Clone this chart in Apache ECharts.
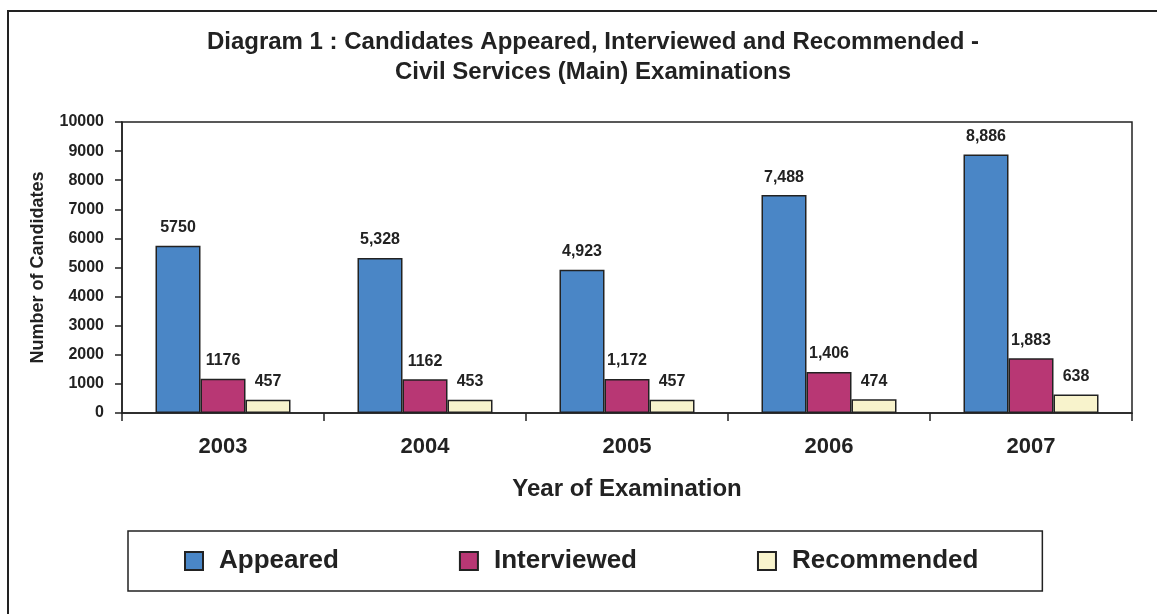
<!DOCTYPE html>
<html>
<head>
<meta charset="utf-8">
<script src="https://cdn.jsdelivr.net/npm/echarts@6/dist/echarts.min.js"></script>
<style>
    html, body {
        margin: 0;
        padding: 0;
        background: #fff;
    }
    #chart {
        width: 1157px;
        height: 614px;
    }
</style>
</head>
<body>
<div id="chart"></div>
<script>
// 数据
const years = ['2003', '2004', '2005', '2006', '2007'];
const appeared = [5750, 5328, 4923, 7488, 8886];
const interviewed = [1176, 1162, 1172, 1406, 1883];
const recommended = [457, 453, 457, 474, 638];
// 原图标签格式不统一，照抄
const appearedLabels = ['5750', '5,328', '4,923', '7,488', '8,886'];
const interviewedLabels = ['1176', '1162', '1,172', '1,406', '1,883'];
const recommendedLabels = ['457', '453', '457', '474', '638'];

const ink = '#222';
const font = '"Liberation Sans", Arial, sans-serif';

function makeSeries(name, values, labels, color) {
    return {
        name: name,
        type: 'bar',
        data: values,
        barWidth: 45,
        barGap: '0%',
        itemStyle: {
            color: color,
            borderColor: ink,
            borderWidth: 1.5
        },
        label: {
            show: true,
            position: 'top',
            distance: 10,
            color: ink,
            fontFamily: font,
            fontWeight: 'bold',
            fontSize: 16,
            formatter: p => labels[p.dataIndex]
        }
    };
}

const chart = echarts.init(document.getElementById('chart'));

chart.setOption({
    backgroundColor: '#fff',
    animation: false,
    textStyle: {fontFamily: font, color: ink},
    title: {
        text: 'Diagram 1 : Candidates Appeared, Interviewed and Recommended -\nCivil Services (Main) Examinations',
        left: 588,
        textAlign: 'center',
        top: 22,
        textStyle: {
            fontFamily: font,
            fontWeight: 'bold',
            fontSize: 24,
            lineHeight: 30,
            color: ink
        }
    },
    // 外框
    graphic: [{
        type: 'rect',
        shape: {x: 8, y: 11, width: 1170, height: 640},
        style: {fill: 'none', stroke: ink, lineWidth: 2},
        silent: true
    }],
    legend: {
        left: 128,
        top: 531,
        padding: [17, 64, 17, 56],
        itemGap: 120,
        itemWidth: 18,
        itemHeight: 18,
        icon: 'rect',
        borderColor: ink,
        borderWidth: 1.5,
        textStyle: {
            fontFamily: font,
            fontWeight: 'bold',
            fontSize: 26,
            color: ink,
            padding: [0, 0, 0, 11]
        }
    },
    grid: {
        left: 122,
        right: 25,
        top: 122,
        bottom: 201,
        show: true,
        borderColor: ink,
        borderWidth: 1.5
    },
    xAxis: {
        type: 'category',
        data: years,
        name: 'Year of Examination',
        nameLocation: 'middle',
        nameGap: 64,
        nameTextStyle: {
            fontFamily: font,
            fontWeight: 'bold',
            fontSize: 24,
            color: ink
        },
        axisLine: {lineStyle: {color: ink, width: 1.5}},
        axisTick: {show: true, length: 8, lineStyle: {color: ink, width: 1.5}},
        axisLabel: {
            margin: 23,
            fontFamily: font,
            fontWeight: 'bold',
            fontSize: 22,
            color: ink
        }
    },
    yAxis: {
        type: 'value',
        min: 0,
        max: 10000,
        interval: 1000,
        name: 'Number of Candidates',
        nameLocation: 'middle',
        nameGap: 75,
        nameTextStyle: {
            fontFamily: font,
            fontWeight: 'bold',
            fontSize: 18,
            color: ink
        },
        axisLine: {show: true, lineStyle: {color: ink, width: 1.5}},
        axisTick: {show: true, length: 7, lineStyle: {color: ink, width: 1.5}},
        splitLine: {show: false},
        axisLabel: {
            margin: 18,
            fontFamily: font,
            fontWeight: 'bold',
            fontSize: 16,
            color: ink,
            formatter: v => String(v)
        }
    },
    series: [
        makeSeries('Appeared', appeared, appearedLabels, '#4a86c6'),
        makeSeries('Interviewed', interviewed, interviewedLabels, '#b83774'),
        makeSeries('Recommended', recommended, recommendedLabels, '#f8f3cc')
    ]
});
</script>
</body>
</html>
